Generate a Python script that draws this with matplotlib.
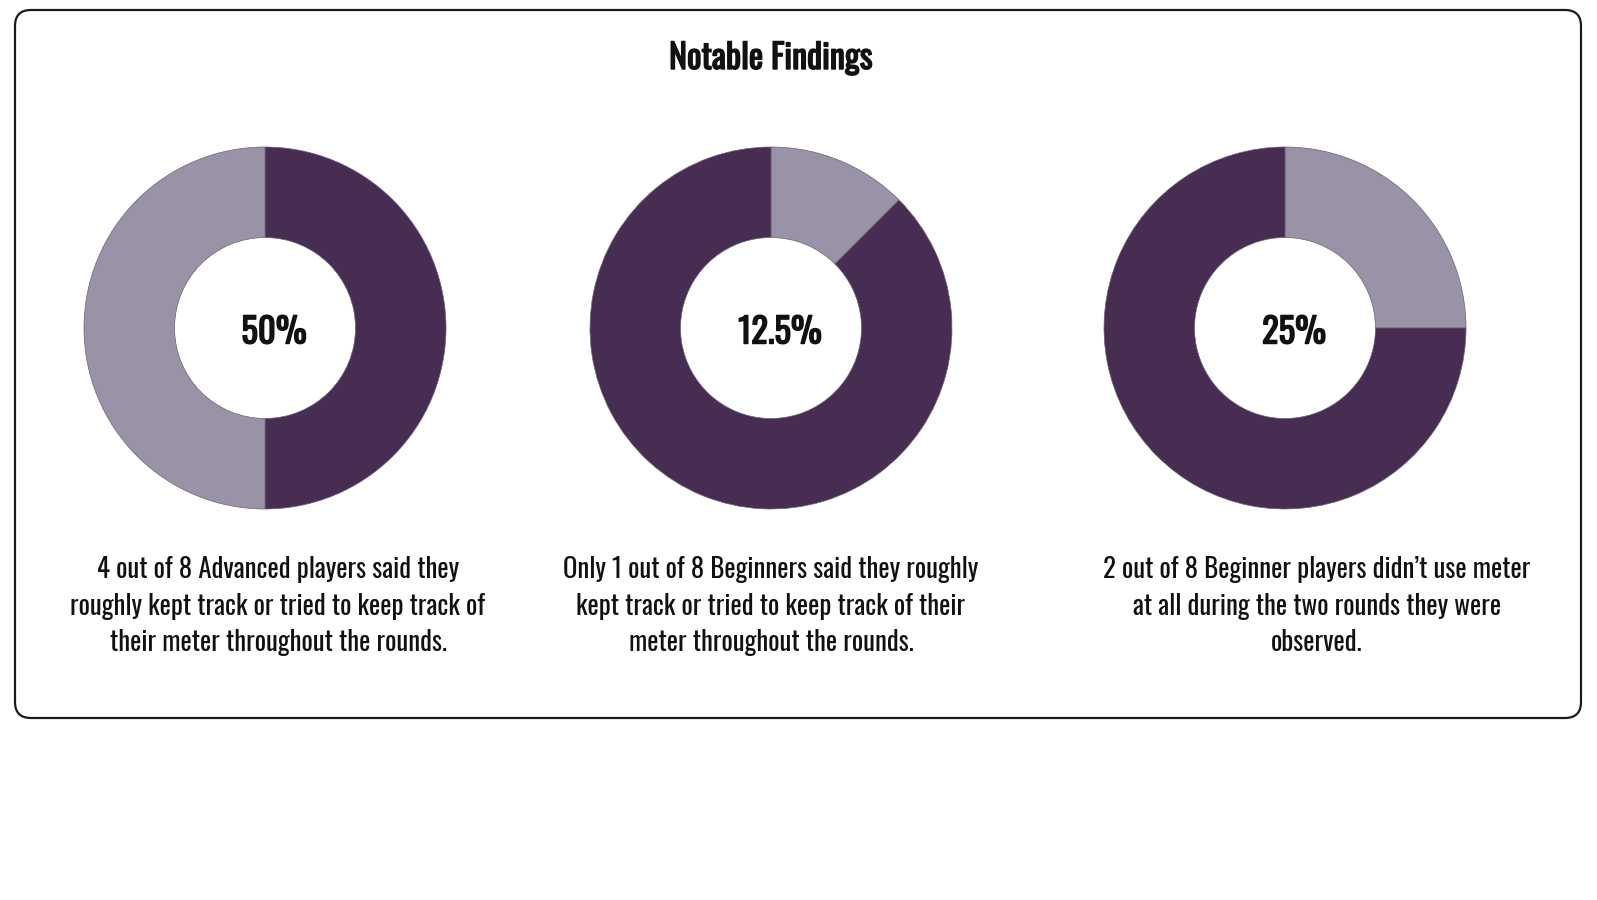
import matplotlib
matplotlib.use('Agg')
import matplotlib.pyplot as plt
import matplotlib.patheffects as pe
from matplotlib.patches import FancyBboxPatch

# --- data ---
pct_values = [50, 12.5, 25]
pct_labels = ['50%', '12.5%', '25%']
captions = [
    "4 out of 8 Advanced players said they\nroughly kept track or tried to keep track of\ntheir meter throughout the rounds.",
    "Only 1 out of 8 Beginners said they roughly\nkept track or tried to keep track of their\nmeter throughout the rounds.",
    "2 out of 8 Beginner players didn\u2019t use meter\nat all during the two rounds they were\nobserved.",
]
title = "Notable Findings"

DARK = '#472D52'
LIGHT = '#9A93A8'

plt.rcParams['font.family'] = ['Oswald', 'DejaVu Sans']

W, H = 1597, 900
fig = plt.figure(figsize=(W / 100, H / 100), dpi=100)
# фоновая ось в пикселях
bg = fig.add_axes([0, 0, 1, 1])
bg.set_xlim(0, W)
bg.set_ylim(H, 0)
bg.axis('off')

box = FancyBboxPatch((15, 10), 1566, 708, boxstyle='round,pad=0,rounding_size=16',
                     fc='white', ec='#1a1a1a', lw=1.6)
bg.add_patch(box)

bold = [pe.withStroke(linewidth=1.0, foreground='#111111')]
bg.text(771, 58, title, ha='center', va='center', fontsize=24.5, color='#111111',
        path_effects=bold)

centers = [(265, 328), (771, 328), (1285, 328)]
text_x = [278, 771, 1317]
R = 181
for i, (cx, cy) in enumerate(centers):
    ax = fig.add_axes([(cx - R) / W, 1 - (cy + R) / H, 2 * R / W, 2 * R / H])
    v = pct_values[i]
    cols = [DARK, LIGHT] if i == 0 else [LIGHT, DARK]
    ax.pie([v, 100 - v], colors=cols, startangle=90, counterclock=False,
           radius=1, wedgeprops=dict(width=0.5, linewidth=0.5, edgecolor='#6a6275'))
    ax.set_xlim(-1, 1)
    ax.set_ylim(-1, 1)
    ax.set_aspect('equal')
    ax.text(0.05, -0.025, pct_labels[i], ha='center', va='center', fontsize=25,
            color='#111111', path_effects=bold)
    bg.text(text_x[i], 606, captions[i], ha='center', va='center', fontsize=19.3,
            linespacing=1.43, color='#111111')

fig.savefig('out.png', dpi=100)
